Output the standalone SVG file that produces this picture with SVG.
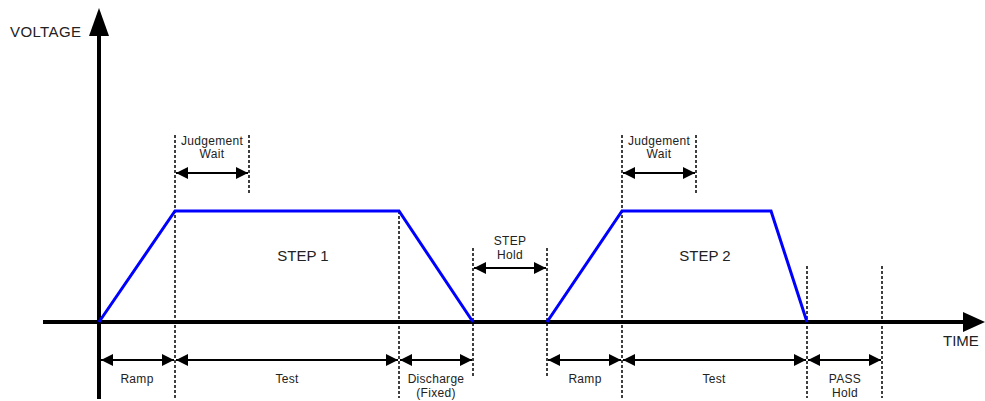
<svg xmlns="http://www.w3.org/2000/svg" width="985" height="401" viewBox="0 0 985 401">
<style>
  text { font-family: "Liberation Sans", Arial, sans-serif; fill: #222; }
  .big { font-size: 15px; }
  .sm { font-size: 12px; letter-spacing: 0.3px; text-anchor: middle; }
  .dash { stroke: #000; stroke-width: 1.5; stroke-dasharray: 3 2; fill: none; }
  .dim { stroke: #000; stroke-width: 2; fill: none; marker-start: url(#ah); marker-end: url(#ah); }
  .axis { stroke: #000; stroke-width: 4; fill: none; }
  .wave { stroke: #0000ff; stroke-width: 3; fill: none; stroke-linejoin: miter; }
</style>
<defs>
  <marker id="ah" viewBox="0 0 12 12" refX="12" refY="6" markerWidth="12" markerHeight="12" markerUnits="userSpaceOnUse" orient="auto-start-reverse">
    <path d="M0,0 L12,6 L0,12 z" fill="#000"/>
  </marker>
</defs>
<rect width="985" height="401" fill="#fff"/>

<g id="axes">
  <line class="axis" x1="99" y1="30" x2="99" y2="399"/>
  <polygon points="99,8 109,36 89,36" fill="#000"/>
  <line class="axis" x1="43" y1="322" x2="965" y2="322"/>
  <polygon points="985,322 963,312 963,332" fill="#000"/>
  <text class="big" x="10" y="37" style="letter-spacing:0.4px">VOLTAGE</text>
  <text class="big" x="943" y="346">TIME</text>
</g>

<g id="guides">
  <line class="dash" x1="175" y1="135" x2="175" y2="398"/>
  <line class="dash" x1="249" y1="135" x2="249" y2="193"/>
  <line class="dash" x1="399" y1="211" x2="399" y2="398"/>
  <line class="dash" x1="473" y1="248" x2="473" y2="377"/>
  <line class="dash" x1="547" y1="248" x2="547" y2="377"/>
  <line class="dash" x1="622" y1="135" x2="622" y2="398"/>
  <line class="dash" x1="696" y1="135" x2="696" y2="193"/>
  <line class="dash" x1="807" y1="266" x2="807" y2="398"/>
  <line class="dash" x1="882" y1="266" x2="882" y2="398"/>
</g>

<g id="waveform">
  <polyline class="wave" points="99,322 175,211 399,211 473,322"/>
  <polyline class="wave" points="547,322 622,211 771,211 807,322"/>
  <text class="big" x="303" y="261" text-anchor="middle">STEP 1</text>
  <text class="big" x="705" y="261" text-anchor="middle">STEP 2</text>
</g>

<g id="connectors">
  <line class="dim" x1="176" y1="173" x2="248" y2="173"/>
  <line class="dim" x1="623" y1="173" x2="695" y2="173"/>
  <line class="dim" x1="474" y1="268" x2="546" y2="268"/>
  <line class="dim" x1="101" y1="360" x2="174" y2="360"/>
  <line class="dim" x1="176" y1="360" x2="398" y2="360"/>
  <line class="dim" x1="400" y1="360" x2="472" y2="360"/>
  <line class="dim" x1="548" y1="360" x2="621" y2="360"/>
  <line class="dim" x1="623" y1="360" x2="806" y2="360"/>
  <line class="dim" x1="808" y1="360" x2="881" y2="360"/>
</g>

<g id="labels">
  <text class="sm" x="212" y="145">Judgement</text>
  <text class="sm" x="212" y="158">Wait</text>
  <text class="sm" x="659" y="145">Judgement</text>
  <text class="sm" x="659" y="158">Wait</text>
  <text class="sm" x="510" y="245">STEP</text>
  <text class="sm" x="510" y="259">Hold</text>
  <text class="sm" x="137" y="383">Ramp</text>
  <text class="sm" x="287" y="383">Test</text>
  <text class="sm" x="436" y="383">Discharge</text>
  <text class="sm" x="436" y="397">(Fixed)</text>
  <text class="sm" x="585" y="383">Ramp</text>
  <text class="sm" x="714" y="383">Test</text>
  <text class="sm" x="845" y="383">PASS</text>
  <text class="sm" x="845" y="397">Hold</text>
</g>
</svg>
